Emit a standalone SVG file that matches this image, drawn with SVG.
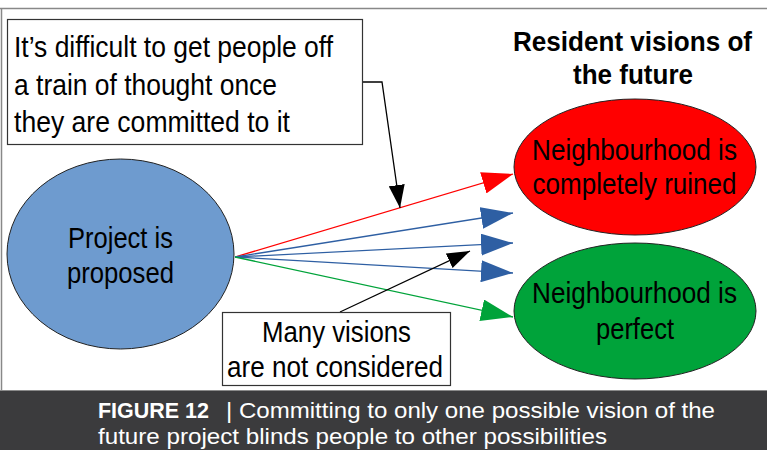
<svg xmlns="http://www.w3.org/2000/svg" width="767" height="450" viewBox="0 0 767 450">
  <style>
    .t { font-family: "Liberation Sans Narrow", "Liberation Sans", Arial, sans-serif; fill: #000; }
    .node { font-size: 30px; }
    .box { fill: #fff; stroke: #333; stroke-width: 1.2; }
    .ell { stroke: #222; stroke-width: 1; }
    .cap { font-family: "Liberation Sans Narrow", "Liberation Sans", Arial, sans-serif; fill: #fff; font-size: 22px; }
    .conn { fill: none; stroke-width: 1.3; }
  </style>
  <defs>
    <marker id="headRed" markerUnits="userSpaceOnUse" markerWidth="32" markerHeight="22" refX="31" refY="11" orient="auto">
      <path d="M0,0 L31,11 L0,22 Z" fill="#ff0000"/>
    </marker>
    <marker id="headBlue" markerUnits="userSpaceOnUse" markerWidth="33" markerHeight="22" refX="32" refY="11" orient="auto">
      <path d="M0,0 L32,11 L0,22 Z" fill="#2e5fa3"/>
    </marker>
    <marker id="headGreen" markerUnits="userSpaceOnUse" markerWidth="33" markerHeight="22" refX="32" refY="11" orient="auto">
      <path d="M0,0 L32,11 L0,22 Z" fill="#00a33a"/>
    </marker>
    <marker id="headBlack" markerUnits="userSpaceOnUse" markerWidth="24" markerHeight="16" refX="23" refY="8" orient="auto">
      <path d="M0,0 L23,8 L0,16 Z" fill="#000"/>
    </marker>
  </defs>

  <!-- page background and frame -->
  <rect x="0" y="0" width="767" height="450" fill="#fff"/>
  <line x1="0" y1="8.5" x2="767" y2="8.5" stroke="#888" stroke-width="1.5"/>
  <line x1="1.5" y1="8" x2="1.5" y2="391" stroke="#888" stroke-width="1.5"/>

  <!-- connectors -->
  <g id="connectors">
    <line class="conn" x1="235" y1="257" x2="513" y2="174" stroke="#ff0000" marker-end="url(#headRed)"/>
    <line class="conn" x1="235" y1="257" x2="513" y2="213" stroke="#2e5fa3" marker-end="url(#headBlue)"/>
    <line class="conn" x1="235" y1="257" x2="513" y2="243" stroke="#2e5fa3" marker-end="url(#headBlue)"/>
    <line class="conn" x1="235" y1="257" x2="513" y2="273" stroke="#2e5fa3" marker-end="url(#headBlue)"/>
    <line class="conn" x1="235" y1="257" x2="513" y2="317" stroke="#00a33a" marker-end="url(#headGreen)"/>
    <polyline class="conn" points="363,82 382,82 400,208" stroke="#000" stroke-width="1.2" marker-end="url(#headBlack)"/>
    <line class="conn" x1="340" y1="312" x2="470" y2="251" stroke="#000" stroke-width="1.2" marker-end="url(#headBlack)"/>
  </g>

  <!-- note: commitment -->
  <g id="note-commitment">
    <rect class="box" x="7.5" y="19.5" width="355" height="125"/>
    <text class="t node" x="14" y="57" textLength="319" lengthAdjust="spacingAndGlyphs">It’s difficult to get people off</text>
    <text class="t node" x="14" y="95" textLength="263" lengthAdjust="spacingAndGlyphs">a train of thought once</text>
    <text class="t node" x="14" y="132" textLength="276" lengthAdjust="spacingAndGlyphs">they are committed to it</text>
  </g>

  <!-- heading -->
  <g id="heading">
    <text class="t" x="632.5" y="51" font-size="27" font-weight="bold" text-anchor="middle" textLength="239" lengthAdjust="spacingAndGlyphs">Resident visions of</text>
    <text class="t" x="633" y="84" font-size="27" font-weight="bold" text-anchor="middle" textLength="120" lengthAdjust="spacingAndGlyphs">the future</text>
  </g>

  <!-- project node -->
  <g id="node-project">
    <ellipse class="ell" cx="120.5" cy="254" rx="113.5" ry="95" fill="#6e9bcf"/>
    <text class="t node" x="120.5" y="248" text-anchor="middle" textLength="105" lengthAdjust="spacingAndGlyphs">Project is</text>
    <text class="t node" x="120.5" y="283" text-anchor="middle" textLength="107" lengthAdjust="spacingAndGlyphs">proposed</text>
  </g>

  <!-- ruined node -->
  <g id="node-ruined">
    <ellipse class="ell" cx="635" cy="167" rx="121" ry="68" fill="#ff0000"/>
    <text class="t node" x="634.5" y="160" text-anchor="middle" textLength="205" lengthAdjust="spacingAndGlyphs">Neighbourhood is</text>
    <text class="t node" x="634.5" y="194" text-anchor="middle" textLength="204" lengthAdjust="spacingAndGlyphs">completely ruined</text>
  </g>

  <!-- perfect node -->
  <g id="node-perfect">
    <ellipse class="ell" cx="635" cy="311" rx="121" ry="68" fill="#00a33a"/>
    <text class="t node" x="634.5" y="303" text-anchor="middle" textLength="205" lengthAdjust="spacingAndGlyphs">Neighbourhood is</text>
    <text class="t node" x="635" y="339" text-anchor="middle" textLength="78" lengthAdjust="spacingAndGlyphs">perfect</text>
  </g>

  <!-- note: other visions -->
  <g id="note-visions">
    <rect class="box" x="222.5" y="312.5" width="228" height="73"/>
    <text class="t node" x="336.5" y="342" text-anchor="middle" textLength="149" lengthAdjust="spacingAndGlyphs">Many visions</text>
    <text class="t node" x="335" y="377" text-anchor="middle" textLength="216" lengthAdjust="spacingAndGlyphs">are not considered</text>
  </g>

  <!-- caption bar -->
  <g id="caption">
    <rect x="0" y="390" width="767" height="60" fill="#3b3b3d"/>
    <line x1="0" y1="390.5" x2="767" y2="390.5" stroke="#8a8a8a" stroke-width="1"/>
    <text class="cap" x="98" y="418" font-weight="bold" textLength="111" lengthAdjust="spacingAndGlyphs">FIGURE 12</text>
    <text class="cap" x="226" y="418" textLength="489" lengthAdjust="spacingAndGlyphs">| Committing to only one possible vision of the</text>
    <text class="cap" x="98" y="444" textLength="509" lengthAdjust="spacingAndGlyphs">future project blinds people to other possibilities</text>
  </g>
</svg>
